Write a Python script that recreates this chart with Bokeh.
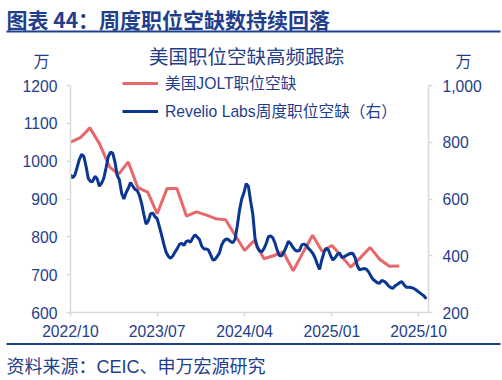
import pandas as pd
from bokeh.plotting import figure
from bokeh.layouts import column, row
from bokeh.models import (Range1d, LinearAxis, FixedTicker, DatetimeTickFormatter,
                          NumeralTickFormatter, Legend, LegendItem, Label, BoxAnnotation,
                          ColumnDataSource)
from bokeh.embed import file_html
from bokeh.resources import INLINE

# ---------------- data ----------------
title_text = "图表 44：周度职位空缺数持续回落"
subtitle_text = "美国职位空缺高频跟踪"
source_text = "资料来源：CEIC、申万宏源研究"
unit_text = "万"
jolt_name = "美国JOLT职位空缺"
revelio_name = "Revelio Labs周度职位空缺（右）"

x_tick_labels = ["2022/10", "2023/07", "2024/04", "2025/01", "2025/10"]
left_ticks = [600, 700, 800, 900, 1000, 1100, 1200]
right_ticks = [200, 400, 600, 800, 1000]

# monthly JOLT openings (万), 2022/10 .. 2025/08
jolt_start = "2022-10-01"
jolt_values = [1050, 1062, 1088, 1045, 985, 965, 998, 930, 918, 861,
               928, 928, 855, 866, 858, 848, 845, 806, 764, 790,
               742, 750, 760, 710, 757, 804, 762, 777, 748, 720,
               745, 772, 740, 722, 723]

# weekly Revelio Labs openings (万), from 2022-10-01
revelio_start = "2022-10-01"
revelio_values = [685, 675, 685, 712, 740, 757, 750, 715, 672, 662,
                  662, 680, 671, 645, 656, 674, 710, 750, 765, 762,
                  730, 683, 667, 620, 600, 622, 638, 658, 645, 634,
                  630, 613, 584, 545, 511, 523, 548, 550, 538, 530,
                  502, 472, 440, 412, 398, 391, 399, 413, 425, 440,
                  444, 436, 450, 453, 448, 463, 474, 466, 457, 434,
                  424, 424, 421, 404, 385, 387, 398, 410, 438, 453,
                  459, 457, 450, 446, 458, 505, 560, 600, 622, 654,
                  645, 593, 545, 460, 430, 417, 414, 425, 443, 467,
                  470, 463, 444, 418, 400, 400, 413, 431, 451, 443,
                  430, 420, 416, 419, 438, 441, 437, 426, 418, 408,
                  392, 370, 352, 385, 412, 427, 420, 400, 385, 393,
                  405, 410, 394, 396, 401, 405, 409, 408, 393, 365,
                  350, 353, 355, 353, 344, 330, 317, 311, 305, 303,
                  313, 310, 304, 294, 288, 285, 294, 299, 305, 309,
                  298, 289, 289, 288, 286, 282, 276, 270, 264, 258,
                  248]

# ---------------- styles ----------------
NAVY = "#1F3E8C"
RED = "#E8676B"
BLUE = "#0A3793"
AXIS_GRAY = "#D9D9D9"
LATIN = "'Liberation Sans', 'Noto Sans CJK SC'"
CJK = "'Noto Sans CJK SC'"

W = 502
TOP_H, MAIN_H, BOT_H = 70, 272, 38


def blank_panel(h):
    f = figure(width=W, height=h, x_range=Range1d(0, W), y_range=Range1d(h, 0),
               output_backend="svg", toolbar_location=None,
               x_axis_location=None, y_axis_location=None,
               min_border=0, min_border_left=0, min_border_right=0,
               min_border_top=0, min_border_bottom=0)
    f.outline_line_color = None
    f.xgrid.visible = False
    f.ygrid.visible = False
    f.background_fill_color = "white"
    f.border_fill_color = "white"
    return f


def add_text(f, text, x, y, size, align="left", bold=False, font=CJK):
    f.add_layout(Label(x=x, y=y, text=text, text_font=font, text_font_size=size,
                       text_color=NAVY, text_align=align, text_baseline="middle",
                       text_font_style="bold" if bold else "normal"))


def add_rule(f, y):
    f.add_layout(BoxAnnotation(left=6, right=500, top=y - 1, bottom=y + 1,
                               fill_color=NAVY, fill_alpha=1, line_color=None))


# ---------------- top panel: title, subtitle, units ----------------
top = blank_panel(TOP_H)
add_text(top, title_text, 6, 18, "21px", bold=True)
add_rule(top, 31)
add_text(top, subtitle_text, 246, 55, "19.5px", align="center")
add_text(top, unit_text, 41, 59, "16px", align="center")
add_text(top, unit_text, 463, 59, "16px", align="center")

# ---------------- main chart ----------------
jolt_dates = pd.date_range(jolt_start, periods=len(jolt_values), freq="MS")
rev_dates = pd.date_range(revelio_start, periods=len(revelio_values), freq="7D")
tick_ms = [int(pd.to_datetime(t, format="%Y/%m").timestamp() * 1000) for t in x_tick_labels]

src_j = ColumnDataSource(dict(x=jolt_dates, y=jolt_values))
src_r = ColumnDataSource(dict(x=rev_dates, y=revelio_values))

# frame runs 15px above the top tick so the legend fits inside it
L_LO, L_HI, R_LO, R_HI = 600, 1200, 200, 1000
pad_px, span_px = 15, 227
l_end = L_HI + pad_px * (L_HI - L_LO) / span_px
r_end = R_HI + pad_px * (R_HI - R_LO) / span_px

p = figure(width=W, height=MAIN_H, x_axis_type="datetime",
           x_range=Range1d(pd.Timestamp("2022-10-01"), pd.Timestamp("2025-11-01")),
           y_range=Range1d(L_LO, l_end),
           output_backend="svg", toolbar_location=None,
           min_border_left=70, min_border_right=74,
           min_border_top=0, min_border_bottom=MAIN_H - pad_px - span_px)
p.extra_y_ranges = {"r": Range1d(R_LO, r_end)}
p.outline_line_color = None
p.xgrid.visible = False
p.ygrid.visible = False
p.background_fill_color = "white"
p.border_fill_color = "white"

r_j = p.line("x", "y", source=src_j, color=RED, line_width=3)
r_r = p.line("x", "y", source=src_r, color=BLUE, line_width=3, y_range_name="r")

raxis = LinearAxis(y_range_name="r")
p.add_layout(raxis, "right")

p.xaxis.ticker = FixedTicker(ticks=tick_ms)
fmt = "%Y/%m"
p.xaxis.formatter = DatetimeTickFormatter(years=fmt, months=fmt, days=fmt, hours=fmt,
                                          minutes=fmt, seconds=fmt, milliseconds=fmt,
                                          microseconds=fmt, hourmin=fmt, minsec=fmt)
p.yaxis[0].ticker = FixedTicker(ticks=left_ticks)
p.yaxis[0].bounds = (L_LO, L_HI)
raxis.ticker = FixedTicker(ticks=right_ticks)
raxis.bounds = (R_LO, R_HI)
raxis.formatter = NumeralTickFormatter(format="0,0")

for ax in [p.xaxis[0], p.yaxis[0], raxis]:
    ax.axis_line_color = AXIS_GRAY
    ax.axis_line_width = 1.5
    ax.major_tick_line_color = AXIS_GRAY
    ax.major_tick_line_width = 1.5
    ax.major_tick_out = 4
    ax.major_tick_in = 0
    ax.minor_tick_line_color = None
    ax.major_label_text_font = LATIN
    ax.major_label_text_font_size = "15.7px"
    ax.major_label_text_color = NAVY
p.xaxis[0].major_label_standoff = 6
p.yaxis[0].major_label_standoff = 9
raxis.major_label_standoff = 10

legend = Legend(items=[LegendItem(label=jolt_name, renderers=[r_j]),
                       LegendItem(label=revelio_name, renderers=[r_r])],
                location=(52, 190), orientation="vertical",
                border_line_color=None, background_fill_alpha=0,
                label_text_font=LATIN, label_text_font_size="15.7px",
                label_text_color=NAVY, glyph_width=36, glyph_height=20,
                label_height=20, spacing=5, padding=0, margin=0, label_standoff=7)
p.add_layout(legend)

# ---------------- bottom panel: rule and source ----------------
bot = blank_panel(BOT_H)
add_rule(bot, 1.5)
add_text(bot, source_text, 6, 24, "18px", font=LATIN)

# wrap the text panels so their frames are not aligned with the chart frame
layout = column(row(top), p, row(bot), spacing=0)
open("out.html", "w").write(file_html(layout, INLINE))
